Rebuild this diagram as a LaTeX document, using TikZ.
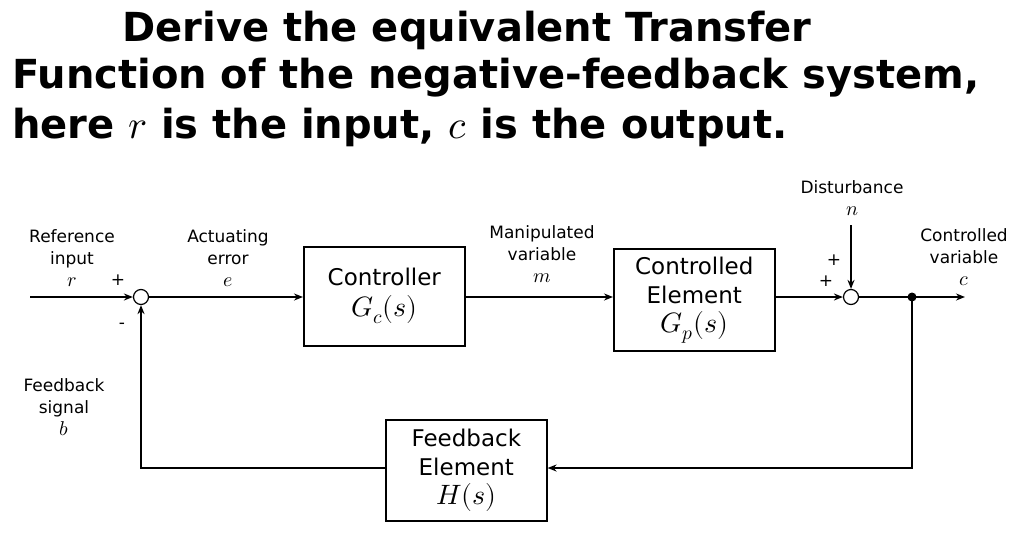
\documentclass[tikz,border=0pt]{standalone}
\usepackage{unicode-math}
\setmainfont{DejaVu Sans}
\setmathfont{Latin Modern Math}
\usetikzlibrary{arrows.meta}
\newcommand{\bm}[1]{{\fontsize{28}{29}\selectfont$#1$}}
\newcommand{\lm}[1]{{\fontsize{20}{22}\selectfont$#1$}}
\begin{document}
\begin{tikzpicture}[x=1pt,y=-1pt,
  blk/.style={draw,line width=1.6pt,minimum width=161pt,anchor=north west,inner sep=0pt,align=center,font=\fontsize{23}{29}\selectfont},
  sm/.style={draw,circle,line width=1.2pt,minimum size=15pt,inner sep=0pt},
  lab/.style={align=center,font=\fontsize{17}{22}\selectfont,inner sep=0pt},
  arr/.style={line width=1.6pt,-{Stealth[length=9pt,width=7pt]}},
  ln/.style={line width=1.6pt}]
\useasboundingbox (0,0) rectangle (1024,538);
\node[font=\fontsize{40}{46}\bfseries\selectfont,inner sep=0pt] (t1) at (467,30) {Derive the equivalent Transfer};
\node[font=\fontsize{40}{46}\bfseries\selectfont,inner sep=0pt,anchor=west] (t2) at (12,78) {Function of the negative-feedback system,};
\node[font=\fontsize{40}{46}\bfseries\selectfont,inner sep=0pt,anchor=west] (t3) at (12,127) {here $r$ is the input, $c$ is the output.};

\node[blk,minimum height=99pt] (ctl) at (303,246) {Controller\\[2pt]\bm{G_c(s)}};
\node[blk,minimum height=102pt] (pl) at (613,248) {Controlled\\Element\\\bm{G_p(s)}};
\node[blk,minimum height=101pt] (fb) at (385,419) {Feedback\\Element\\\bm{H(s)}};
\node[sm] (s1) at (141,297) {};
\node[sm] (s2) at (851,297) {};
\coordinate (in) at (30,297);
\coordinate (j) at (912,297);
\coordinate (out) at (965,297);
\coordinate (d) at (851,225);
\fill (j) circle (4.5pt);

\draw[arr] (in) -- (s1);
\draw[arr] (s1) -- (ctl.west|-s1);
\draw[arr] (ctl.east|-s1) -- (pl.west|-s1);
\draw[arr] (pl.east|-s2) -- (s2);
\draw[ln] (s2) -- (j);
\draw[arr] (j) -- (out);
\draw[arr] (d) -- (s2);
\draw[arr] (j) |- (fb.east|-0,468);
\draw[arr] (fb.west|-0,468) -| (s1);

\node[lab] (l1) at (72,258) {Reference\\input\\\lm{r}};
\node[lab] (p1) at (118,280) {+};
\node[lab] (m1) at (122,326) {-};
\node[lab] (l2) at (228,258) {Actuating\\error\\\lm{e}};
\node[lab] (l3) at (542,254) {Manipulated\\variable\\\lm{m}};
\node[lab] (l4) at (852,198) {Disturbance\\\lm{n}};
\node[lab] (p2) at (834,260) {+};
\node[lab] (p3) at (826,281) {+};
\node[lab] (l5) at (964,257) {Controlled\\variable\\\lm{c}};
\node[lab] (l6) at (64,407) {Feedback\\signal\\\lm{b}};
\end{tikzpicture}
\end{document}
